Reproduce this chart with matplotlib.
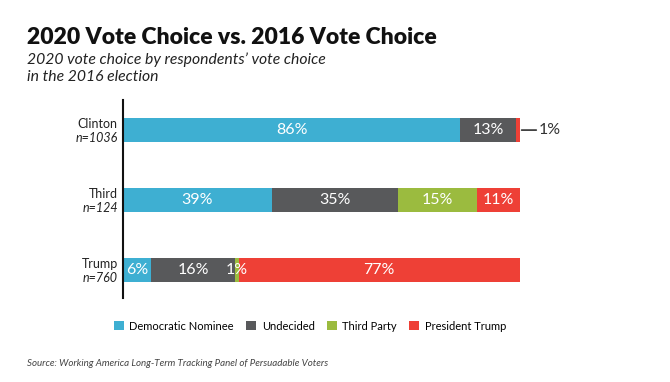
import numpy as np
import matplotlib.pyplot as plt

plt.rcParams['font.family'] = ['Lato', 'DejaVu Sans']

# 数据：条形长度按图量取，标签为图中文字
groups = ['Clinton', 'Third', 'Trump']
sizes = ['n=1036', 'n=124', 'n=760']
series = ['Democratic Nominee', 'Undecided', 'Third Party', 'President Trump']
colors = ['#3eafd2', '#58595b', '#9bbb3f', '#ee4036']
dem = [84.9, 37.5, 7.1]
undecided = [14.1, 31.7, 21.2]
third = [0.0, 19.9, 0.8]
trump = [1.0, 10.9, 70.9]
labels = [['86%', '13%', '', ''],
          ['39%', '35%', '15%', '11%'],
          ['6%', '16%', '1%', '77%']]

fig = plt.figure(figsize=(6.7, 3.82), dpi=100)
ax = fig.add_axes([123 / 670, 1 - 298 / 382, 397 / 670, 198 / 382])

y = np.arange(len(groups))
left = np.zeros(len(groups))
vals = [dem, undecided, third, trump]
for i, v in enumerate(vals):
    v = np.array(v)
    ax.barh(y, v, left=left, height=0.34, color=colors[i], label=series[i])
    for j in range(len(groups)):
        if labels[j][i]:
            ax.text(left[j] + v[j] / 2, y[j], labels[j][i], ha='center', va='center',
                    color='white', fontsize=11.5)
    left += v

# Clinton 1% 引出标注
ax.annotate('1%', xy=(left[0] + 0.4, 0), xytext=(104.8, 0),
            ha='left', va='center', fontsize=11.5, color='#333333',
            arrowprops=dict(arrowstyle='-', color='#333333', lw=1.2, shrinkA=0, shrinkB=0),
            annotation_clip=False)

for j, g in enumerate(groups):
    ax.text(-1.3, y[j] - 0.09, g, ha='right', va='center', fontsize=9, color='#222222')
    ax.text(-1.3, y[j] + 0.12, sizes[j], ha='right', va='center', fontsize=9,
            style='italic', color='#222222')

ax.set_xlim(0, 100)
ax.set_ylim(2.4, -0.43)
for s in ['top', 'right', 'bottom']:
    ax.spines[s].set_visible(False)
ax.spines['left'].set_linewidth(1.5)
ax.spines['left'].set_color('#111111')
ax.set_xticks([])
ax.set_yticks([])

fig.text(27 / 670, 1 - 38 / 382, '2020 Vote Choice vs. 2016 Vote Choice', fontsize=16.5,
         fontweight='heavy', va='center', ha='left', color='#111111')
fig.text(27 / 670, 1 - 60 / 382, '2020 vote choice by respondents\u2019 vote choice',
         fontsize=11.3, style='italic', va='center', ha='left', color='#222222')
fig.text(27 / 670, 1 - 77 / 382, 'in the 2016 election',
         fontsize=11.3, style='italic', va='center', ha='left', color='#222222')

fig.legend(loc='center', bbox_to_anchor=(310 / 670, 1 - 326 / 382), ncol=4, frameon=False,
           fontsize=8, handlelength=0.9, handleheight=0.9, handletextpad=0.5, columnspacing=1.1)

fig.text(27 / 670, 1 - 363 / 382,
         'Source: Working America Long-Term Tracking Panel of Persuadable Voters',
         fontsize=7, style='italic', va='center', ha='left', color='#444444')

fig.savefig('out.png', dpi=100, facecolor='white')
